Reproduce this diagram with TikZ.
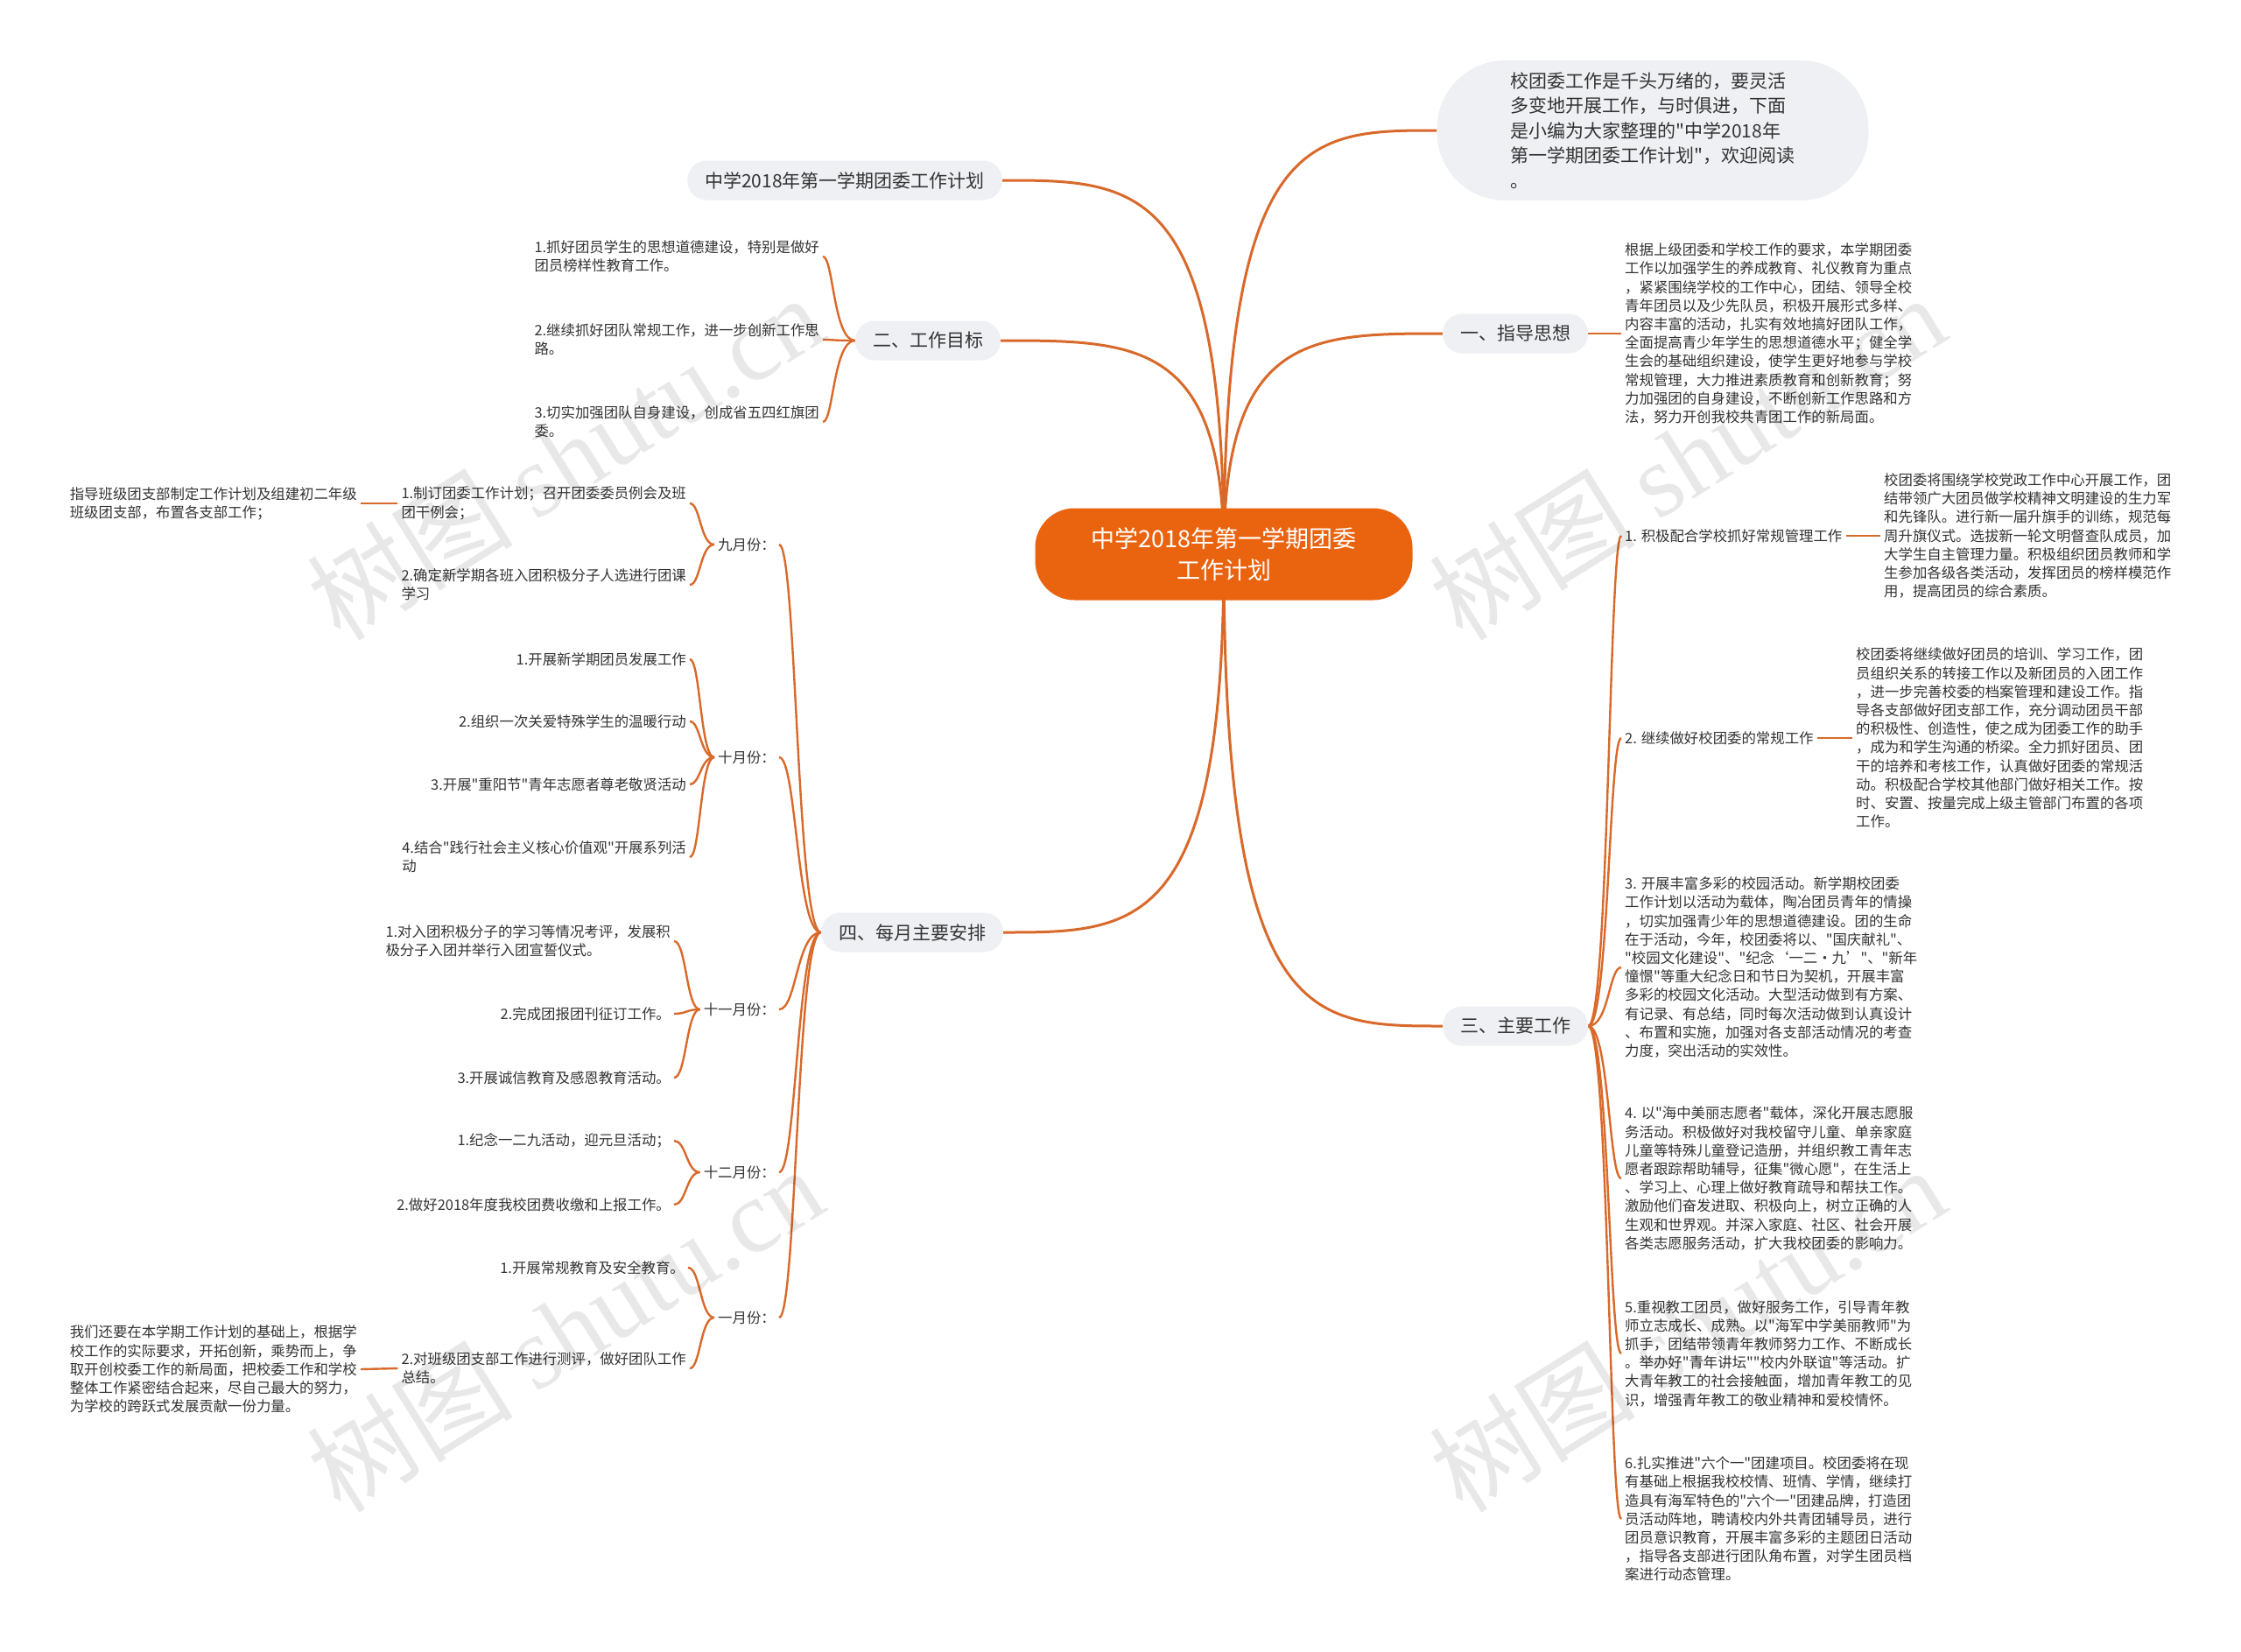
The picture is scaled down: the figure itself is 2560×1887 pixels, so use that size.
\documentclass[tikz,border=0pt]{standalone}
\usepackage{fontspec}
\setmainfont{Noto Sans CJK SC}[Ligatures=TeXOff]
\newfontfamily\wmfont{Liberation Serif}
\usetikzlibrary{calc}
\pgfdeclarelayer{bg}
\pgfsetlayers{bg,main}
\definecolor{lineC}{HTML}{D9692A}
\definecolor{centralC}{HTML}{EA6410}
\definecolor{pillC}{HTML}{EEF0F3}
\definecolor{txtC}{HTML}{333333}
\begin{document}
\begin{tikzpicture}[x=1pt,y=-1pt,
  every node/.style={text=txtC, inner sep=4pt},
  central/.style={fill=centralC, text=white, rounded corners=45pt, minimum width=431pt, minimum height=105pt, font=\fontsize{27}{36}\selectfont, align=center},
  pill/.style={fill=pillC, rounded corners=22pt, minimum height=45pt, inner xsep=20pt, font=\fontsize{21}{25}\selectfont},
  bubble/.style={fill=pillC, rounded corners=78pt, minimum width=493pt, minimum height=160pt, font=\fontsize{21}{28.5}\selectfont, align=left},
  itm/.style={font=\fontsize{16.4}{21.2}\selectfont, align=left},
  mainline/.style={draw=lineC, line width=3pt},
  subline/.style={draw=lineC, line width=2.4pt},
  wm/.style={text=black, opacity=0.09, rotate=32, font=\fontsize{118}{118}\selectfont}
]
\begin{pgfonlayer}{bg}
\fill[white] (0,0) rectangle (2560,1887);
\end{pgfonlayer}
\useasboundingbox (0,0) rectangle (2560,1887);

% central and branches
\node[central] (c) at (1398,633) {中学2018年第一学期团委\\工作计划};
\node[bubble] (intro) at (1888,149) {校团委工作是千头万绪的，要灵活\\多变地开展工作，与时俱进，下面\\是小编为大家整理的"中学2018年\\第一学期团委工作计划"，欢迎阅读\\。};
\node[pill] (t0) at (965,206) {中学2018年第一学期团委工作计划};
\node[pill] (b1) at (1731,381) {一、指导思想};
\node[pill] (b3) at (1731,1172) {三、主要工作};
\node[pill] (b2) at (1060,389) {二、工作目标};
\node[pill] (b4) at (1042,1065) {四、每月主要安排};

% right: 指导思想
\node[itm, anchor=west] (a1) at (1852,381) {根据上级团委和学校工作的要求，本学期团委\\工作以加强学生的养成教育、礼仪教育为重点\\，紧紧围绕学校的工作中心，团结、领导全校\\青年团员以及少先队员，积极开展形式多样、\\内容丰富的活动，扎实有效地搞好团队工作，\\全面提高青少年学生的思想道德水平；健全学\\生会的基础组织建设，使学生更好地参与学校\\常规管理，大力推进素质教育和创新教育；努\\力加强团的自身建设，不断创新工作思路和方\\法，努力开创我校共青团工作的新局面。};

% right: 主要工作
\node[itm, anchor=west] (r1) at (1852,612) {1. 积极配合学校抓好常规管理工作};
\node[itm, anchor=west] (r1d) at (2148,612) {校团委将围绕学校党政工作中心开展工作，团\\结带领广大团员做学校精神文明建设的生力军\\和先锋队。进行新一届升旗手的训练，规范每\\周升旗仪式。选拔新一轮文明督查队成员，加\\大学生自主管理力量。积极组织团员教师和学\\生参加各级各类活动，发挥团员的榜样模范作\\用，提高团员的综合素质。};
\node[itm, anchor=west] (r2) at (1852,843) {2. 继续做好校团委的常规工作};
\node[itm, anchor=west] (r2d) at (2116,843) {校团委将继续做好团员的培训、学习工作，团\\员组织关系的转接工作以及新团员的入团工作\\，进一步完善校委的档案管理和建设工作。指\\导各支部做好团支部工作，充分调动团员干部\\的积极性、创造性，使之成为团委工作的助手\\，成为和学生沟通的桥梁。全力抓好团员、团\\干的培养和考核工作，认真做好团委的常规活\\动。积极配合学校其他部门做好相关工作。按\\时、安置、按量完成上级主管部门布置的各项\\工作。};
\node[itm, anchor=west] (r3) at (1852,1105) {3. 开展丰富多彩的校园活动。新学期校团委\\工作计划以活动为载体，陶冶团员青年的情操\\，切实加强青少年的思想道德建设。团的生命\\在于活动，今年，校团委将以、"国庆献礼"、\\"校园文化建设"、"纪念‘一二•九’"、"新年\\憧憬"等重大纪念日和节日为契机，开展丰富\\多彩的校园文化活动。大型活动做到有方案、\\有记录、有总结，同时每次活动做到认真设计\\、布置和实施，加强对各支部活动情况的考查\\力度，突出活动的实效性。};
\node[itm, anchor=west] (r4) at (1852,1346) {4. 以"海中美丽志愿者"载体，深化开展志愿服\\务活动。积极做好对我校留守儿童、单亲家庭\\儿童等特殊儿童登记造册，并组织教工青年志\\愿者跟踪帮助辅导，征集"微心愿"，在生活上\\、学习上、心理上做好教育疏导和帮扶工作。\\激励他们奋发进取、积极向上，树立正确的人\\生观和世界观。并深入家庭、社区、社会开展\\各类志愿服务活动，扩大我校团委的影响力。};
\node[itm, anchor=west] (r5) at (1852,1546) {5.重视教工团员，做好服务工作，引导青年教\\师立志成长、成熟。以"海军中学美丽教师"为\\抓手，团结带领青年教师努力工作、不断成长\\。举办好"青年讲坛""校内外联谊"等活动。扩\\大青年教工的社会接触面，增加青年教工的见\\识，增强青年教工的敬业精神和爱校情怀。};
\node[itm, anchor=west] (r6) at (1852,1735) {6.扎实推进"六个一"团建项目。校团委将在现\\有基础上根据我校校情、班情、学情，继续打\\造具有海军特色的"六个一"团建品牌，打造团\\员活动阵地，聘请校内外共青团辅导员，进行\\团员意识教育，开展丰富多彩的主题团日活动\\，指导各支部进行团队角布置，对学生团员档\\案进行动态管理。};

% left: 工作目标
\node[itm, anchor=east] (g1) at (940,293) {1.抓好团员学生的思想道德建设，特别是做好\\团员榜样性教育工作。};
\node[itm, anchor=east] (g2) at (940,388) {2.继续抓好团队常规工作，进一步创新工作思\\路。};
\node[itm, anchor=east] (g3) at (940,482) {3.切实加强团队自身建设，创成省五四红旗团\\委。};

% months
\node[itm, anchor=east] (m9) at (890,622) {九月份：};
\node[itm, anchor=east] (m10) at (890,865) {十月份：};
\node[itm, anchor=east] (m11) at (890,1153) {十一月份：};
\node[itm, anchor=east] (m12) at (890,1339) {十二月份：};
\node[itm, anchor=east] (m1) at (890,1505) {一月份：};

\node[itm, anchor=east] (s91) at (788,575) {1.制订团委工作计划；召开团委委员例会及班\\团干例会；};
\node[itm, anchor=east] (s91c) at (412,575) {指导班级团支部制定工作计划及组建初二年级\\班级团支部，布置各支部工作；};
\node[itm, anchor=east] (s92) at (788,668) {2.确定新学期各班入团积极分子人选进行团课\\学习};

\node[itm, anchor=east] (s101) at (788,753) {1.开展新学期团员发展工作};
\node[itm, anchor=east] (s102) at (788,824) {2.组织一次关爱特殊学生的温暖行动};
\node[itm, anchor=east] (s103) at (788,896) {3.开展"重阳节"青年志愿者尊老敬贤活动};
\node[itm, anchor=east] (s104) at (788,979) {4.结合"践行社会主义核心价值观"开展系列活\\动};

\node[itm, anchor=east] (s111) at (770,1075) {1.对入团积极分子的学习等情况考评，发展积\\极分子入团并举行入团宣誓仪式。};
\node[itm, anchor=east] (s112) at (770,1158) {2.完成团报团刊征订工作。};
\node[itm, anchor=east] (s113) at (770,1231) {3.开展诚信教育及感恩教育活动。};

\node[itm, anchor=east] (s121) at (770,1303) {1.纪念一二九活动，迎元旦活动；};
\node[itm, anchor=east] (s122) at (770,1376) {2.做好2018年度我校团费收缴和上报工作。};

\node[itm, anchor=east] (s11) at (786,1448) {1.开展常规教育及安全教育。};
\node[itm, anchor=east] (s12) at (788,1563) {2.对班级团支部工作进行测评，做好团队工作\\总结。};
\node[itm, anchor=east] (s12c) at (412,1564) {我们还要在本学期工作计划的基础上，根据学\\校工作的实际要求，开拓创新，乘势而上，争\\取开创校委工作的新局面，把校委工作和学校\\整体工作紧密结合起来，尽自己最大的努力，\\为学校的跨跃式发展贡献一份力量。};

% connectors
\begin{pgfonlayer}{bg}
\draw[mainline] (c.center) .. controls (1398,149) and (1495,149) .. (intro.west);
\draw[mainline] (c.center) .. controls (1398,381) and (1497,381) .. (b1.west);
\draw[mainline] (c.center) .. controls (1398,206) and (1299,206) .. (t0.east);
\draw[mainline] (c.center) .. controls (1398,389) and (1298,389) .. (b2.east);
\draw[mainline] (c.center) .. controls (1398,1065) and (1298,1065) .. (b4.east);
\draw[mainline] (c.center) .. controls (1398,1172) and (1497,1172) .. (b3.west);

\draw[subline] (b1.east) -- (a1.west);
\foreach \n/\y in {r1/612,r2/843,r3/1105,r4/1346,r5/1546,r6/1735}
  \draw[subline] (b3.east) .. controls (1838,1172) and (1838,\y) .. (\n.west);
\draw[subline] (r1.east) -- (r1d.west);
\draw[subline] (r2.east) -- (r2d.west);

\foreach \n/\y in {g1/293,g2/388,g3/482}
  \draw[subline] (b2.west) .. controls (952,389) and (952,\y) .. (\n.east);

\foreach \n/\y in {m9/622,m10/865,m11/1153,m12/1339,m1/1505}
  \draw[subline] (b4.west) .. controls (910,1065) and (910,\y) .. (\n.east);

\foreach \n/\y in {s91/575,s92/668}
  \draw[subline] (m9.west) .. controls (800,622) and (800,\y) .. (\n.east);
\draw[subline] (s91.west) -- (s91c.east);
\foreach \n/\y in {s101/753,s102/824,s103/896,s104/979}
  \draw[subline] (m10.west) .. controls (800,865) and (800,\y) .. (\n.east);
\foreach \n/\y in {s111/1075,s112/1158,s113/1231}
  \draw[subline] (m11.west) .. controls (784,1153) and (784,\y) .. (\n.east);
\foreach \n/\y in {s121/1303,s122/1376}
  \draw[subline] (m12.west) .. controls (784,1339) and (784,\y) .. (\n.east);
\foreach \n/\y in {s11/1448,s12/1563}
  \draw[subline] (m1.west) .. controls (800,1505) and (800,\y) .. (\n.east);
\draw[subline] (s12.west) -- (s12c.east);
\end{pgfonlayer}

% watermarks
\node[wm] (w1) at (645,522) {树图 {\wmfont shutu.cn}};
\node[wm] (w2) at (1927,522) {树图 {\wmfont shutu.cn}};
\node[wm] (w3) at (645,1518) {树图 {\wmfont shutu.cn}};
\node[wm] (w4) at (1927,1518) {树图 {\wmfont shutu.cn}};
\end{tikzpicture}
\end{document}
